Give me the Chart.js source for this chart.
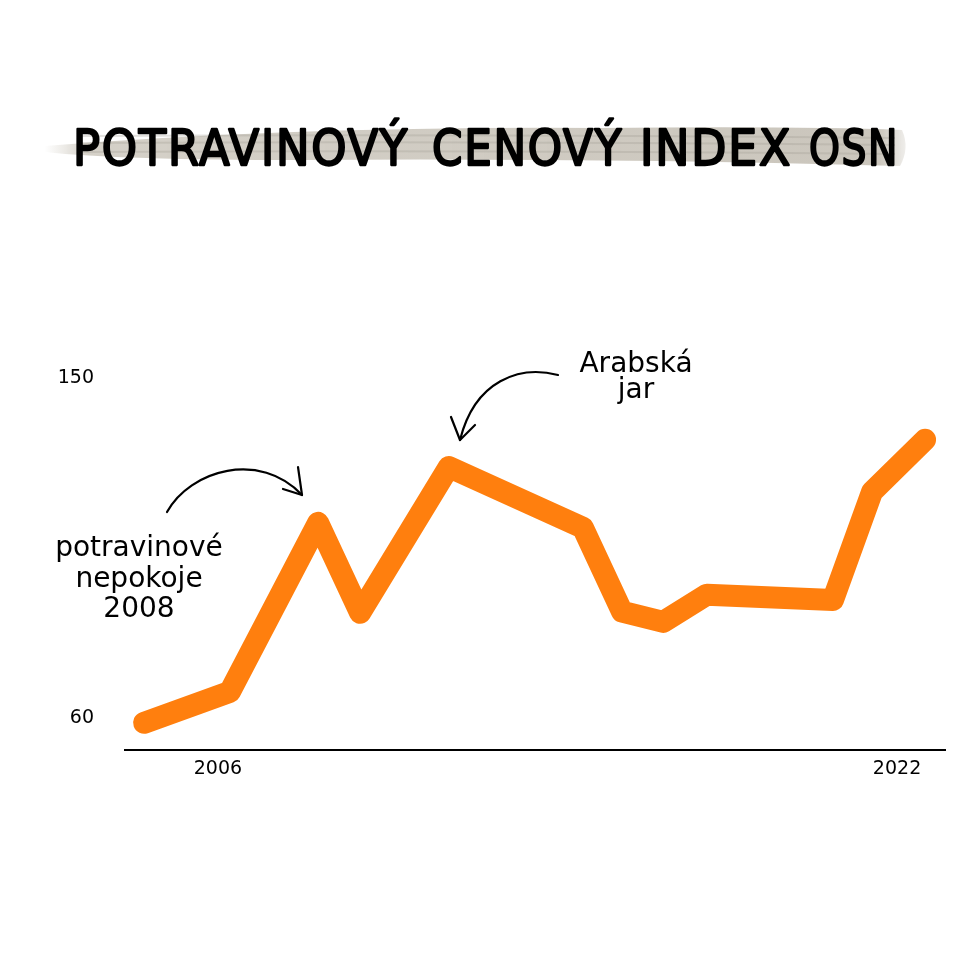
<!DOCTYPE html>
<html>
<head>
<meta charset="utf-8">
<script src="https://cdn.jsdelivr.net/npm/chart.js@4"></script>
<style>
  html, body { margin: 0; padding: 0; background: #fff; }
  canvas { display: block; }
</style>
</head>
<body>
<canvas id="grafica" width="970" height="970"></canvas>
<script>
// data
const years = [2004.26, 2006.28, 2008.36, 2009.35, 2011.44, 2014.60, 2015.52, 2016.49, 2017.52, 2020.49, 2021.41, 2022.66];
const indexValues = [58.7, 66.9, 111.6, 87.8, 126.4, 110.3, 88.1, 85.4, 92.6, 91.2, 119.8, 133.6];
const xTicks = [2006, 2022];
const yTicks = [60, 150];

const tituloPalabras = ['POTRAVINOVÝ', 'CENOVÝ', 'INDEX', 'OSN'];
const notaCrisis = ['potravinové', 'nepokoje', '2008'];
const notaArabe = ['Arabská', 'jar'];

const fuente = '"DejaVu Sans", sans-serif';

// left and right edge of each title word
const tituloBordes = [[73, 407], [432, 621], [640, 790], [809, 897]];

// title with grey brush behind it
function dibujarTitulo(ctx) {
    ctx.save();
    // brush stroke
    const grad = ctx.createLinearGradient(45, 0, 905, 0);
    grad.addColorStop(0, 'rgba(205,200,190,0)');
    grad.addColorStop(0.05, 'rgba(205,200,190,0.85)');
    grad.addColorStop(0.97, 'rgba(200,195,185,0.95)');
    grad.addColorStop(1, 'rgba(200,195,185,0.3)');
    ctx.fillStyle = grad;
    ctx.beginPath();
    ctx.moveTo(45, 146);
    ctx.quadraticCurveTo(300, 126, 600, 128);
    ctx.quadraticCurveTo(800, 126, 902, 130);
    ctx.quadraticCurveTo(910, 148, 900, 166);
    ctx.quadraticCurveTo(600, 158, 300, 160);
    ctx.quadraticCurveTo(120, 160, 45, 152);
    ctx.closePath();
    ctx.fill();
    ctx.strokeStyle = 'rgba(160,155,145,0.3)';
    ctx.lineWidth = 2;
    [[136, 138], [143, 145], [152, 154]].forEach(function(r) {
        ctx.beginPath();
        ctx.moveTo(80, r[0]);
        ctx.quadraticCurveTo(500, r[1] - 4, 895, r[1]);
        ctx.stroke();
    });

    // each word squeezed into its place
    ctx.font = '50px ' + fuente;
    ctx.letterSpacing = '2px';
    ctx.fillStyle = '#000';
    ctx.strokeStyle = '#000';
    ctx.lineWidth = 2.3;
    ctx.lineJoin = 'round';
    ctx.textBaseline = 'alphabetic';
    tituloPalabras.forEach(function(p, i) {
        const b = tituloBordes[i];
        const escala = (b[1] - b[0] + 2) / ctx.measureText(p).width;
        ctx.save();
        ctx.translate(b[0], 165);
        ctx.scale(escala, 1);
        ctx.fillText(p, 0, 0);
        ctx.strokeText(p, 0, 0);
        ctx.restore();
    });
    ctx.restore();
}

function flecha(ctx, inicio, c1, c2, fin, barbas) {
    ctx.beginPath();
    ctx.moveTo(inicio[0], inicio[1]);
    ctx.bezierCurveTo(c1[0], c1[1], c2[0], c2[1], fin[0], fin[1]);
    ctx.stroke();
    barbas.forEach(function(b) {
        ctx.beginPath();
        ctx.moveTo(b[0], b[1]);
        ctx.lineTo(fin[0], fin[1]);
        ctx.stroke();
    });
}

function dibujarNotas(ctx) {
    ctx.save();
    ctx.fillStyle = '#000';
    ctx.strokeStyle = '#000';
    ctx.lineWidth = 2.2;
    ctx.lineCap = 'round';
    ctx.font = '28px ' + fuente;
    ctx.textAlign = 'center';
    ctx.textBaseline = 'alphabetic';

    const baseCrisis = [556, 587, 617];
    notaCrisis.forEach(function(t, i) { ctx.fillText(t, 139, baseCrisis[i]); });
    const baseArabe = [372, 398];
    notaArabe.forEach(function(t, i) { ctx.fillText(t, 636, baseArabe[i]); });

    flecha(ctx, [167, 512], [190, 470], [260, 450], [302, 495], [[283, 489], [298, 467]]);
    flecha(ctx, [558, 375], [520, 365], [475, 380], [460, 440], [[451, 417], [475, 425]]);
    ctx.restore();
}

const decoracion = {
    id: 'decoracion',
    afterDraw(chart) {
        dibujarTitulo(chart.ctx);
        dibujarNotas(chart.ctx);
    }
};

const ctx = document.getElementById('grafica').getContext('2d');
const chart = new Chart(ctx, {
    type: 'line',
    data: {
        datasets: [{
            data: years.map((x, i) => ({ x: x, y: indexValues[i] })),
            borderColor: '#ff7f0e',
            borderWidth: 22,
            borderJoinStyle: 'round',
            borderCapStyle: 'round',
            pointRadius: 0,
            tension: 0,
            fill: false
        }]
    },
    options: {
        responsive: false,
        devicePixelRatio: 1,
        animation: false,
        layout: { padding: { left: 0, right: 25, top: 340, bottom: 180 } },
        plugins: { legend: { display: false }, tooltip: { enabled: false } },
        scales: {
            x: {
                type: 'linear',
                min: 2003.81,
                max: 2023.13,
                afterBuildTicks: s => { s.ticks = xTicks.map(v => ({ value: v })); },
                afterFit: s => { s.height = 40; },
                grid: { display: false, drawTicks: false },
                border: { display: true, color: '#000', width: 2 },
                ticks: {
                    color: '#000',
                    font: { family: fuente, size: 19 },
                    padding: 8,
                    maxRotation: 0,
                    callback: v => String(v)
                }
            },
            y: {
                min: 51.5,
                max: 160,
                afterBuildTicks: s => { s.ticks = yTicks.map(v => ({ value: v })); },
                afterFit: s => { s.width = 125; },
                grid: { display: false, drawTicks: false },
                border: { display: false },
                ticks: {
                    color: '#000',
                    font: { family: fuente, size: 19 },
                    padding: 31,
                    callback: v => String(v)
                }
            }
        }
    },
    plugins: [decoracion]
});
</script>
</body>
</html>
